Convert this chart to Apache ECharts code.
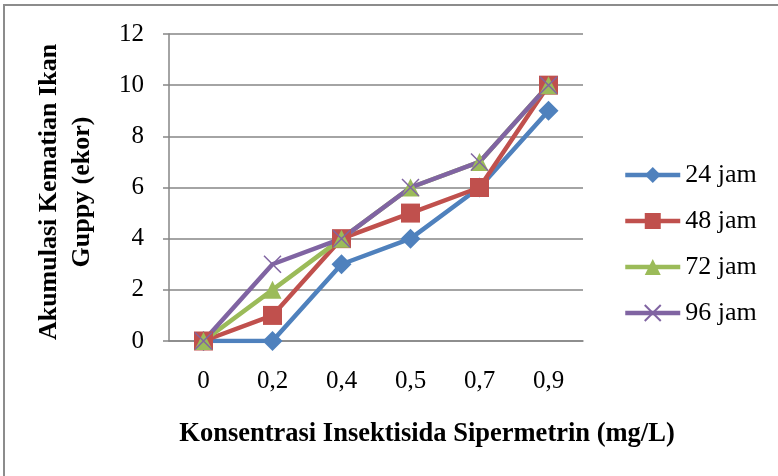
<!DOCTYPE html>
<html>
<head>
<meta charset="utf-8">
<script src="https://cdn.jsdelivr.net/npm/echarts@6/dist/echarts.min.js"></script>
<style>
  html, body { margin: 0; padding: 0; background: #fff; }
  #chart { width: 778px; height: 476px; }
</style>
</head>
<body>
<div id="chart"></div>
<script>
// Concentration levels (mg/L) on the category axis
const concentrations = ['0', '0,2', '0,4', '0,5', '0,7', '0,9'];

// Cumulative guppy deaths per exposure time
const jam24 = [0, 0, 3, 4, 6, 9];
const jam48 = [0, 1, 4, 5, 6, 10];
const jam72 = [0, 2, 4, 6, 7, 10];
const jam96 = [0, 3, 4, 6, 7, 10];

const seriesNames = ['24 jam', '48 jam', '72 jam', '96 jam'];
const yTicks = { min: 0, max: 12, interval: 2 };

const FONT = 'Liberation Serif';
const GRID_GRAY = '#868686';

// "x" marker drawn as two crossing strokes
const crossPath = 'path://M0,0L10,10M10,0L0,10';

function makeSeries(name, data, color, symbol, size, extra) {
  return Object.assign({
    name: name,
    type: 'line',
    data: data,
    symbol: symbol,
    symbolSize: size,
    showAllSymbol: true,
    lineStyle: { color: color, width: 4.5 },
    itemStyle: { color: color },
    emphasis: { disabled: true },
    animation: false
  }, extra || {});
}

const chart = echarts.init(document.getElementById('chart'), null, { renderer: 'canvas' });

chart.setOption({
  backgroundColor: '#ffffff',
  animation: false,
  textStyle: { fontFamily: FONT },
  grid: { left: 169, right: 195, top: 34, bottom: 135, containLabel: false },
  xAxis: {
    type: 'category',
    data: concentrations,
    boundaryGap: true,
    axisLine: { show: true, lineStyle: { color: GRID_GRAY, width: 1.5 } },
    axisTick: { show: false },
    axisLabel: { color: '#000', fontFamily: FONT, fontSize: 25, margin: 28 },
    splitLine: { show: false }
  },
  yAxis: {
    type: 'value',
    min: yTicks.min,
    max: yTicks.max,
    interval: yTicks.interval,
    axisLine: { show: true, lineStyle: { color: GRID_GRAY, width: 1.5 } },
    axisTick: { show: true, inside: false, length: 6, lineStyle: { color: GRID_GRAY, width: 1.5 } },
    axisLabel: { color: '#000', fontFamily: FONT, fontSize: 25, margin: 25 },
    splitLine: { show: true, lineStyle: { color: GRID_GRAY, width: 1.5 } }
  },
  legend: {
    orient: 'vertical',
    left: 623,
    top: 162,
    padding: 0,
    itemWidth: 55,
    itemHeight: 20,
    itemGap: 20,
    lineStyle: { width: 4.5 },
    textStyle: { color: '#000', fontFamily: FONT, fontSize: 26, lineHeight: 26 },
    data: seriesNames
  },
  graphic: [
    {
      type: 'rect',
      silent: true,
      shape: { x: 4, y: 5, width: 900, height: 900 },
      style: { fill: 'none', stroke: '#8c8c8c', lineWidth: 2 }
    },
    {
      type: 'text',
      silent: true,
      x: 427,
      y: 434,
      style: {
        text: 'Konsentrasi Insektisida Sipermetrin (mg/L)',
        font: 'bold 26.5px "Liberation Serif"',
        fill: '#000',
        align: 'center',
        verticalAlign: 'middle'
      }
    },
    {
      type: 'text',
      silent: true,
      x: 66,
      y: 192,
      rotation: Math.PI / 2,
      style: {
        text: 'Akumulasi Kematian Ikan\nGuppy (ekor)',
        font: 'bold 26px "Liberation Serif"',
        fill: '#000',
        align: 'center',
        verticalAlign: 'middle',
        lineHeight: 33
      }
    }
  ],
  series: [
    makeSeries(seriesNames[0], jam24, '#4F81BD', 'diamond', 20),
    makeSeries(seriesNames[1], jam48, '#C0504D', 'rect', 19),
    makeSeries(seriesNames[2], jam72, '#9BBB59', 'triangle', 18),
    makeSeries(seriesNames[3], jam96, '#8064A2', crossPath, 17, {
      itemStyle: { color: '#8064A2', borderColor: '#8064A2', borderWidth: 1.5 }
    })
  ]
});
</script>
</body>
</html>
